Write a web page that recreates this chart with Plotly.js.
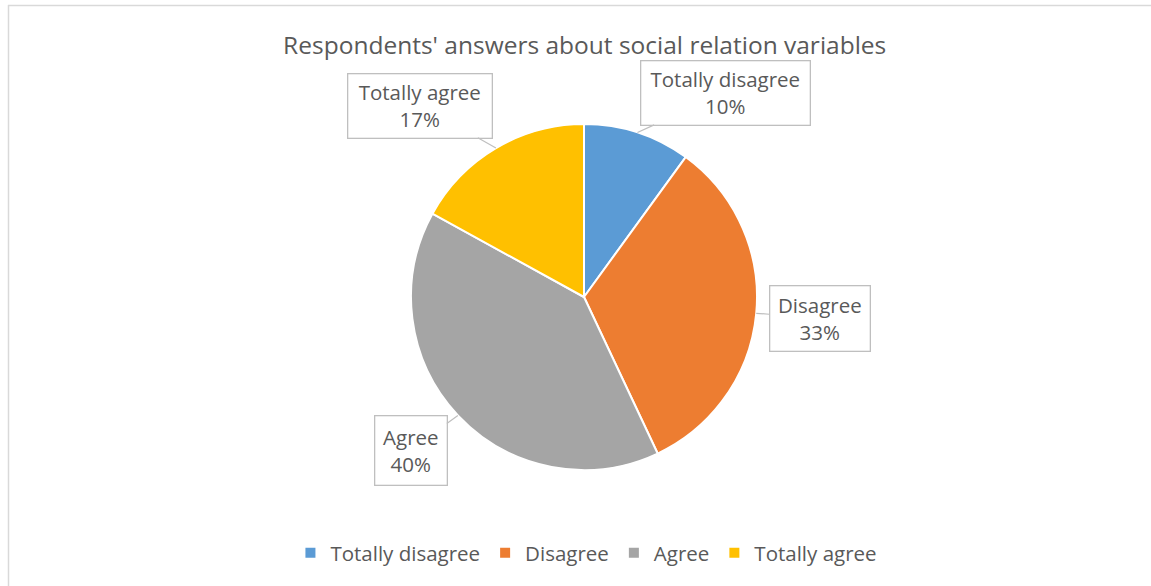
<!DOCTYPE html>
<html>
<head>
<meta charset="utf-8">
<script src="https://cdn.plot.ly/plotly-3.0.1.min.js"></script>
<style>html,body{margin:0;padding:0;background:#fff;}#chart{width:1151px;height:586px;}</style>
</head>
<body>
<div id="chart"></div>
<script>
var categories = ["Totally disagree", "Disagree", "Agree", "Totally agree"];
var percentages = [10, 33, 40, 17];
var sliceColors = ["#5B9BD5", "#ED7D31", "#A5A5A5", "#FFC000"];
var chartTitle = "Respondents' answers about social relation variables";

var W = 1151, H = 586;
var cx = 584, cy = 297, R = 173;
function px(x){ return x / W; }
function py(y){ return 1 - y / H; }

// callout box centers and sizes (layout only)
var boxes = [
  {cx: 725, cy: 92.5, w: 162, h: 57},
  {cx: 819.5, cy: 318, w: 93, h: 58},
  {cx: 410.5, cy: 450, w: 65, h: 62},
  {cx: 420.5, cy: 105.5, w: 137, h: 57}
];

var total = percentages.reduce(function(a,b){return a+b;}, 0);
var annotations = [];
var cum = 0;
for (var i = 0; i < categories.length; i++) {
  var mid = (cum + percentages[i] / 2) / total * 2 * Math.PI;
  cum += percentages[i];
  var ex = cx + R * Math.sin(mid);
  var ey = cy - R * Math.cos(mid);
  var b = boxes[i];
  annotations.push({
    xref: 'paper', yref: 'paper',
    x: px(ex), y: py(ey),
    ax: b.cx - ex, ay: b.cy - ey,
    showarrow: true, arrowhead: 0, arrowwidth: 1.2, arrowcolor: '#BFBFBF',
    text: categories[i] + '<br>' + percentages[i] + '%',
    font: {family: 'Open Sans, sans-serif', size: 20.5, color: '#595959'},
    bordercolor: '#BFBFBF', borderwidth: 1.3, borderpad: 3, bgcolor: '#FFFFFF',
    width: b.w, height: b.h, align: 'center', valign: 'middle'
  });
}

var trace = {
  type: 'pie',
  labels: categories,
  values: percentages,
  sort: false,
  direction: 'clockwise',
  rotation: 0,
  textinfo: 'none',
  hoverinfo: 'label+percent',
  marker: {colors: sliceColors, line: {color: '#FFFFFF', width: 2}},
  domain: {x: [px(cx - R), px(cx + R)], y: [py(cy + R), py(cy - R)]}
};

var layout = {
  width: W, height: H,
  margin: {l: 0, r: 0, t: 0, b: 0},
  paper_bgcolor: '#FFFFFF',
  title: {text: chartTitle, x: 0.508, xanchor: 'center', y: py(45), yanchor: 'middle',
          font: {family: 'Open Sans, sans-serif', size: 24.5, color: '#595959'}},
  showlegend: true,
  legend: {orientation: 'h', x: 0.5095, xanchor: 'center', y: py(553), yanchor: 'middle',
           font: {family: 'Open Sans, sans-serif', size: 20.5, color: '#595959'},
           itemwidth: 30, tracegroupgap: 0},
  annotations: annotations,
  shapes: [
    {type: 'line', xref: 'paper', yref: 'paper', x0: px(8), x1: 1, y0: py(5.5), y1: py(5.5), line: {color: '#D9D9D9', width: 1.5}},
    {type: 'line', xref: 'paper', yref: 'paper', x0: px(8.5), x1: px(8.5), y0: py(5), y1: 0, line: {color: '#D9D9D9', width: 1.5}}
  ]
};

Plotly.newPlot('chart', [trace], layout, {displayModeBar: false, staticPlot: true});
</script>
</body>
</html>
